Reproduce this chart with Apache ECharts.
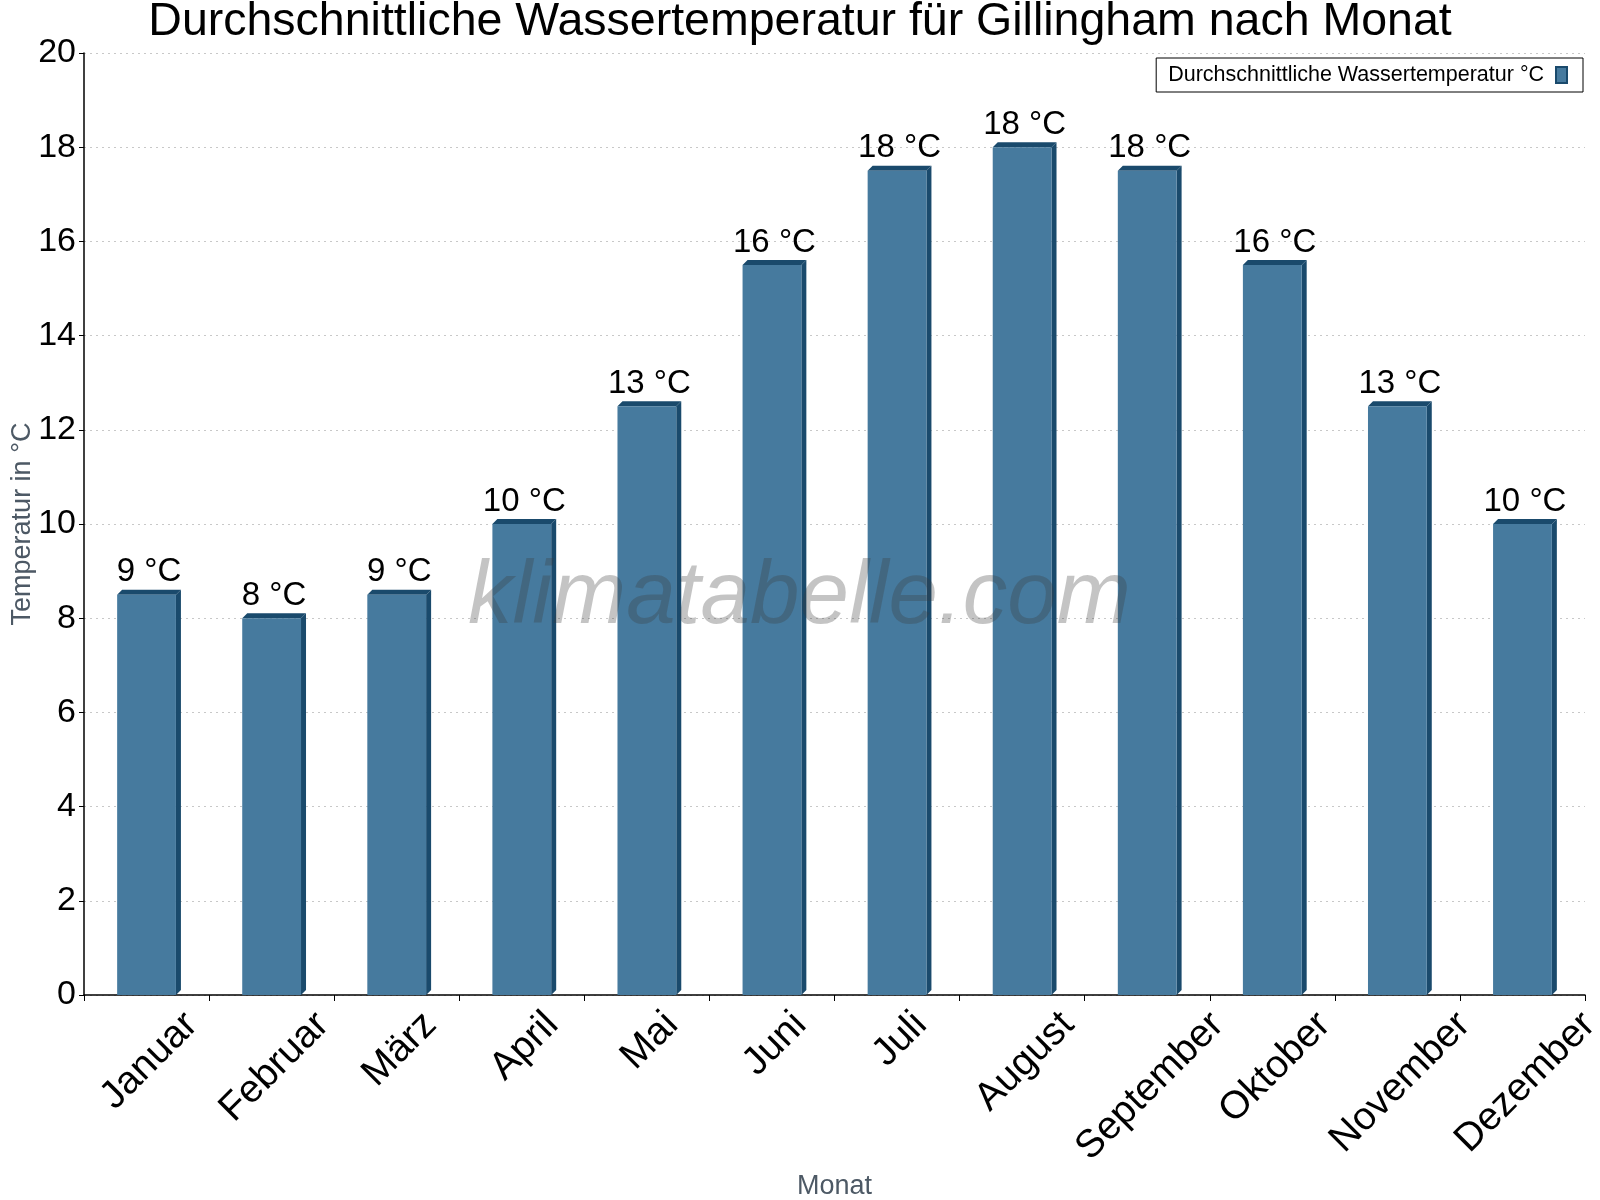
<!DOCTYPE html>
<html>
<head>
<meta charset="utf-8">
<title>Wassertemperatur Gillingham</title>
<script src="https://cdn.jsdelivr.net/npm/echarts@6/dist/echarts.min.js"></script>
<style>
  html, body { margin: 0; padding: 0; background: #fff; }
  #chart { width: 1600px; height: 1200px; }
</style>
</head>
<body>
<div id="chart"></div>
<script>
// Monate und mittlere Wassertemperatur (°C)
var MONTHS = ['Januar', 'Februar', 'März', 'April', 'Mai', 'Juni',
  'Juli', 'August', 'September', 'Oktober', 'November', 'Dezember']
var TEMPS = [8.5, 8, 8.5, 10, 12.5, 15.5, 17.5, 18, 17.5, 15.5, 12.5, 10]
var Y_TICKS = [0, 2, 4, 6, 8, 10, 12, 14, 16, 18, 20]

var FONT = 'Liberation Sans, Arial, sans-serif'
var FRONT = '#467a9e'
var DARK = '#1a4a6c'
var XLABEL_SIZE = 39

var chart = echarts.init(document.getElementById('chart'))

// Monatsnamen sind im Original um 45° gedreht und mit der Mitte ihres
// Rahmens unter der Kategoriemitte zentriert -> Textbreite wird gebraucht
var measureCtx = document.createElement('canvas').getContext('2d')
measureCtx.font = XLABEL_SIZE + 'px ' + FONT
function textWidth(s) {
  return measureCtx.measureText(s).width
}

// Balken mit kleinem 3D-Effekt (Oberseite + rechte Seite) und Beschriftung
function renderBar(params, api) {
  var idx = api.value(0)
  var v = api.value(1)
  var top = api.coord([idx, v])
  var base = api.coord([idx, 0])
  var band = api.size([1, 0])[0]
  var w = band * 0.47
  var d = 5
  var x0 = top[0] - w / 2
  var x1 = top[0] + w / 2
  var yt = top[1]
  var yb = base[1]
  var month = MONTHS[idx]
  var half = 0.354 * (textWidth(month) + XLABEL_SIZE)
  return {
    type: 'group',
    children: [
      {
        type: 'polygon',
        shape: { points: [[x1, yt], [x1 + d, yt - d], [x1 + d, yb - d], [x1, yb]] },
        style: { fill: DARK }
      },
      {
        type: 'polygon',
        shape: { points: [[x0, yt], [x0 + d, yt - d], [x1 + d, yt - d], [x1, yt]] },
        style: { fill: DARK }
      },
      {
        type: 'rect',
        shape: { x: x0, y: yt, width: w, height: yb - yt },
        style: { fill: FRONT }
      },
      {
        type: 'text',
        style: {
          text: Math.round(v) + ' °C',
          x: (x0 + x1 + d) / 2,
          y: yt - d - 1,
          align: 'center',
          verticalAlign: 'bottom',
          fontSize: 33,
          fontFamily: FONT,
          fill: '#000'
        }
      },
      {
        type: 'text',
        x: base[0] + 3,
        y: yb + 10 + half,
        rotation: Math.PI / 4,
        style: {
          text: month,
          x: 0,
          y: 0,
          align: 'center',
          verticalAlign: 'middle',
          fontSize: XLABEL_SIZE,
          fontFamily: FONT,
          fill: '#000'
        }
      }
    ]
  }
}

var option = {
  animation: false,
  textStyle: { fontFamily: FONT },
  title: {
    text: 'Durchschnittliche Wassertemperatur für Gillingham nach Monat',
    left: 'center',
    top: -6,
    textStyle: { fontSize: 46.5, fontWeight: 'normal', color: '#000', fontFamily: FONT }
  },
  legend: {
    right: 17,
    top: 58,
    orient: 'horizontal',
    align: 'right',
    borderColor: '#000',
    borderWidth: 1,
    borderRadius: 0,
    padding: [6, 15, 6, 12],
    itemWidth: 11,
    itemHeight: 16,
    icon: 'rect',
    textStyle: { fontSize: 21.5, color: '#000', fontFamily: FONT, padding: [0, 7, 0, 0] },
    data: ['Durchschnittliche Wassertemperatur °C']
  },
  grid: { left: 84, right: 15, top: 53, bottom: 205, containLabel: false, outerBoundsMode: 'none' },
  xAxis: {
    type: 'category',
    data: MONTHS,
    name: 'Monat',
    nameLocation: 'middle',
    nameGap: 178,
    nameMoveOverlap: false,
    nameTextStyle: { fontSize: 27, color: '#4d5965', fontFamily: FONT },
    axisLine: { lineStyle: { color: '#000', width: 1.5 } },
    axisTick: { show: true, length: 6, lineStyle: { color: '#000' } },
    axisLabel: { show: false },
    splitLine: { show: false }
  },
  yAxis: {
    type: 'value',
    min: Y_TICKS[0],
    max: Y_TICKS[Y_TICKS.length - 1],
    interval: Y_TICKS[1] - Y_TICKS[0],
    name: 'Temperatur in °C',
    nameLocation: 'middle',
    nameGap: 48,
    nameMoveOverlap: false,
    nameTextStyle: { fontSize: 27, color: '#4d5965', fontFamily: FONT },
    axisLine: { show: true, lineStyle: { color: '#000', width: 1.5 } },
    axisTick: { show: true, length: 5, lineStyle: { color: '#000' } },
    axisLabel: { fontSize: 34, color: '#000', margin: 8, fontFamily: FONT },
    splitLine: { show: true, lineStyle: { color: '#c8c8c8', type: [2, 4], width: 1 } }
  },
  graphic: [{
    type: 'text',
    left: 468,
    top: 554,
    z: 100,
    silent: true,
    style: {
      text: 'klimatabelle.com',
      fontSize: 89,
      fontStyle: 'italic',
      fontFamily: FONT,
      fill: 'rgba(60,60,60,0.3)'
    }
  }],
  series: [{
    name: 'Durchschnittliche Wassertemperatur °C',
    type: 'custom',
    renderItem: renderBar,
    clip: false,
    itemStyle: { color: FRONT, borderColor: DARK, borderWidth: 1 },
    encode: { x: 0, y: 1 },
    data: TEMPS.map(function (t, i) { return [i, t] })
  }]
}

chart.setOption(option)
</script>
</body>
</html>
